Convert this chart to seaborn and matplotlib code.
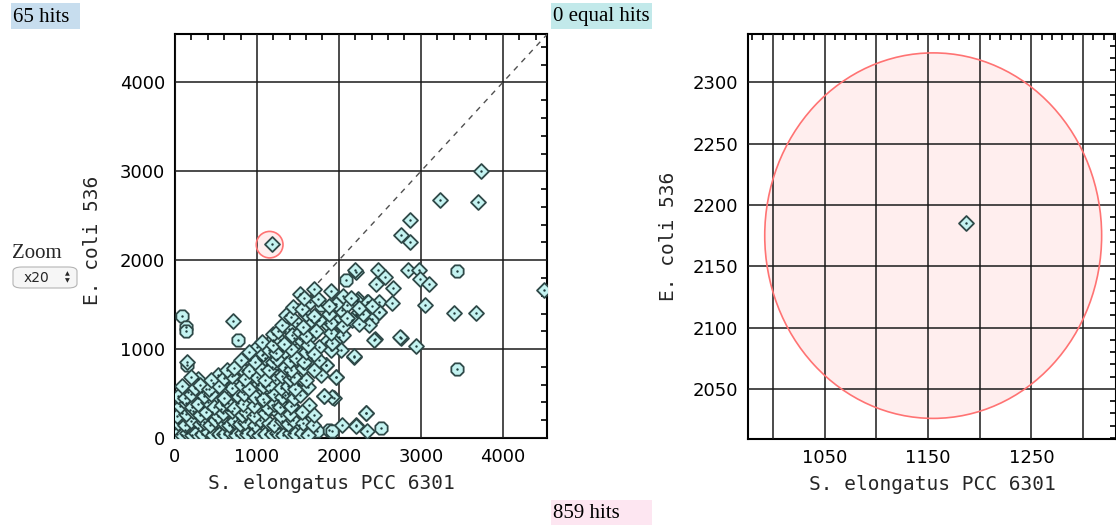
import pandas as pd
import seaborn as sns
import matplotlib.pyplot as plt
from matplotlib.patches import Ellipse, Rectangle, FancyBboxPatch
from matplotlib.ticker import MultipleLocator, FixedLocator, FixedFormatter

# hits drawn as diamonds (x = S. elongatus PCC 6301, y = E. coli 536)
diamond_x = [
    711, 142, 277, 528, 996, 1049, 915, 833, 772, 618, 467, 374, 163, 285, 81,
    183, 447, 630, 772, 894, 1037, 1159, 1220, 1260, 1179, 1301, 1118, 935, 691,
    528, 345, 81, 244, 569, 752, 915, 1057, 1179, 1260, 508, 691, 935, 1260, 122,
    2204, 1521, 1643, 1952, 2102, 2204, 2236, 2346, 2489, 2651, 2489, 2367, 2163,
    1980, 1838, 1757, 1655, 1492, 1391, 1675, 1838, 2001, 2021, 2184, 2436, 2753,
    1757, 1655, 1838, 1968, 1777, 1533, 1370, 1350, 1513, 1818, 1940, 1635, 1472,
    1330, 2326, 2204, 2041, 2346,
    3735, 3240, 3695, 2866, 2764, 2866, 1187, 2195, 2479, 2561, 2447, 2659, 2845,
    2976, 2984, 3098, 4500, 1959, 2224, 2358, 3057, 3402, 3675, 2947, 2752, 2431,
    2183, 2488, 2325, 2203, 1919, 1817, 1959, 1837,
    20, 80, 150, 210, 260, 330, 400, 460, 540, 600, 680, 740, 820, 880, 960, 1030,
    1100, 1180, 1250, 1320, 1400, 1460, 1550, 1620,
    40, 120, 190, 300, 360, 430, 490, 600, 660, 720, 790, 860, 980, 1040, 1150,
    1210, 1300, 1380, 1440, 1560, 1680,
    20, 140, 220, 300, 380, 520, 580, 700, 820, 870, 960, 1100, 1230, 1290, 1400,
    1550, 1700,
    60, 130, 210, 280, 400, 470, 570, 650, 720, 830, 960, 1090, 1140, 1210, 1280,
    1350, 1420,
    40, 120, 200, 360, 440, 600, 760, 840, 980, 1080, 1210, 1300, 1380, 1450, 1520,
    90, 240, 310, 420, 540, 690, 820, 900, 1080, 1150, 1290, 1380, 1460, 1620,
    200, 440, 600, 700, 850, 1000, 1100, 1300, 1400, 1450, 1600,
    640, 720, 900, 1050, 1150, 1340, 1420, 1560, 1700,
    800, 980, 1100, 1200, 1250, 1400, 1480, 1580, 1760,
    900, 1080, 1150, 1230, 1420, 1600, 1700, 1900,
    1060, 1200, 1280, 1330, 1550, 1620, 1920,
    1200, 1260, 1430, 1520, 1600, 1720, 1900, 2050,
    1300, 1560, 1900, 2050, 2250,
    1350, 1420, 1600, 1700, 1880, 2100, 2300,
    1440, 1550, 1880, 2250, 2400,
    1580, 1750, 2050, 2150, 1700, 1900,
]
diamond_y = [
    1318, 860, 660, 708, 1026, 877, 877, 764, 652, 570, 615, 547, 520, 446, 408,
    315, 296, 315, 390, 446, 483, 540, 652, 764, 801, 989, 820, 708, 483,
    427, 352, 278, 221, 183, 221, 259, 315, 371, 427, 109, 127, 109, 109, 90,
    1870, 1619, 1532, 1506, 1495, 1383, 1559, 1532, 1532, 1521, 1420, 1270, 1326,
    1307, 1289, 1326, 1326, 1289, 1222, 1158, 1082, 1139, 989, 914, 1109, 1121,
    1026, 896, 821, 689, 708, 671, 745, 914, 1008, 472, 446, 371, 315,
    352, 277, 146, 146, 82,
    3003, 2682, 2652, 2457, 2284, 2202, 2185, 1895, 1895, 1813, 1738, 1682, 1888,
    1888, 1794, 1727, 1663, 1506, 1543, 1532, 1494, 1401, 1401, 1037, 1131, 1101,
    921, 1416, 277, 135, 457, 472, 689, 820,
    45, 30, 60, 35, 55, 40, 65, 30, 50, 40, 60, 35, 55, 40, 60, 30,
    50, 40, 60, 35, 55, 40, 60, 35,
    170, 150, 190, 160, 185, 150, 200, 170, 150, 190, 160, 185, 150, 200, 170,
    150, 190, 160, 200, 170, 150,
    250, 270, 300, 260, 290, 250, 280, 300, 260, 290, 250, 280, 300, 250, 270,
    290, 260,
    360, 390, 350, 380, 400, 350, 370, 390, 340, 380, 360, 400, 340, 380, 350,
    400, 360,
    470, 450, 500, 470, 490, 450, 480, 500, 460, 440, 490, 460, 500, 450, 480,
    580, 560, 600, 550, 590, 560, 600, 550, 580, 600, 560, 590, 550, 570,
    690, 650, 680, 700, 660, 690, 650, 700, 660, 690, 650,
    760, 790, 750, 780, 760, 800, 770, 790, 760,
    880, 860, 900, 850, 890, 870, 900, 850, 880,
    970, 950, 990, 960, 1000, 970, 950, 990,
    1080, 1050, 1100, 1060, 1090, 1050, 1070,
    1170, 1200, 1160, 1190, 1150, 1200, 1180, 1160,
    1270, 1250, 1290, 1260, 1280,
    1380, 1360, 1400, 1370, 1390, 1350, 1400,
    1470, 1450, 1480, 1460, 1490,
    1580, 1560, 1600, 1570, 1680, 1650,
]

# hits drawn as octagons
octagon_x = [89, 130, 130, 772, 142, 1016, 406, 285, 1118, 2082, 1777, 2041, 2399,
             1452, 1594, 1879, 1736, 1513, 1350, 2509, 3447, 3447, 1911,
             250, 560, 870, 1340, 640, 1190, 1000, 330, 1500, 1060]
octagon_y = [1371, 1251, 1200, 1101, 820, 596, 202, 109, 90, 1776, 1495, 1439, 1334,
             1121, 240, 90, 82, 146, 90, 109, 1880, 772, 82,
             120, 330, 200, 480, 620, 1100, 430, 520, 600, 930]

# highlight ring around the selected hit
ring_center = (1155, 2175)
ring_w, ring_h = 326, 298

main_ticks = [0, 1000, 2000, 3000, 4000]
main_labels = ['0', '1000', '2000', '3000', '4000']
zoom_xticks = [1000, 1050, 1100, 1150, 1200, 1250, 1300]
zoom_xlabels = ['', '1050', '', '1150', '', '1250', '']
zoom_yticks = [2050, 2100, 2150, 2200, 2250, 2300]
zoom_ylabels = ['2050', '2100', '2150', '2200', '2250', '2300']

sns.set_style("white")
plt.rcParams['font.family'] = ['DejaVu Sans']

fig = plt.figure(figsize=(11.16, 5.25), dpi=100)
W, H = 1116, 525
ax1 = fig.add_axes([175 / W, (H - 438) / H, 372 / W, 404 / H])
ax2 = fig.add_axes([748 / W, (H - 439) / H, 368 / W, 405 / H])

fill = '#c4f3f1'
edge = '#2f4948'
df_d = pd.DataFrame({'x': diamond_x, 'y': diamond_y})
df_o = pd.DataFrame({'x': octagon_x, 'y': octagon_y})
df_all = pd.concat([df_d, df_o])

for ax in (ax1, ax2):
    ax.add_patch(Ellipse(ring_center, ring_w, ring_h, facecolor='#ffe8e8', alpha=0.7,
                         edgecolor='none', zorder=1))
    ax.add_patch(Ellipse(ring_center, ring_w, ring_h, facecolor='none',
                         edgecolor='#ff7373', lw=1.2, zorder=2.6))
    sns.scatterplot(data=df_o, x='x', y='y', marker='8', s=92, color=fill,
                    edgecolor=edge, linewidth=1.3, ax=ax, zorder=3)
    sns.scatterplot(data=df_d, x='x', y='y', marker='D', s=58, color=fill,
                    edgecolor=edge, linewidth=1.3, ax=ax, zorder=3)
    sns.scatterplot(data=df_all, x='x', y='y', marker='o', s=3, color='#1f3b3b',
                    linewidth=0, ax=ax, zorder=4)
    ax.grid(True, which='major', color='#1a1a1a', lw=1.1)
    ax.set_axisbelow(False)
    for sp in ax.spines.values():
        sp.set_color('black')
        sp.set_linewidth(1.5)
    ax.tick_params(which='both', direction='in', top=True, right=True,
                   colors='black', labelsize=13, width=1.2)
    ax.tick_params(which='major', length=0, pad=7)
    ax.tick_params(which='minor', length=4.5)
    ax.set_xlabel('S. elongatus PCC 6301', family='DejaVu Sans Mono', fontsize=14)
    ax.set_ylabel('E. coli 536', family='DejaVu Sans Mono', fontsize=14)

# overview panel
ax1.plot([0, 4540], [0, 4540], ls=(0, (4, 4)), color='#505050', lw=1, zorder=2.7)
ax1.set_xlim(0, 4540)
ax1.set_ylim(0, 4545)
ax1.xaxis.set_major_locator(FixedLocator(main_ticks))
ax1.xaxis.set_major_formatter(FixedFormatter(main_labels))
ax1.yaxis.set_major_locator(FixedLocator(main_ticks))
ax1.yaxis.set_major_formatter(FixedFormatter(main_labels))
ax1.xaxis.set_minor_locator(MultipleLocator(200))
ax1.yaxis.set_minor_locator(MultipleLocator(200))
ax1.xaxis.set_label_coords(0.42, -0.09)
ax1.yaxis.set_label_coords(-0.196, 0.49)

# zoomed panel
ax2.set_xlim(975.8, 1331.9)
ax2.set_ylim(2009.2, 2339.4)
ax2.xaxis.set_major_locator(FixedLocator(zoom_xticks))
ax2.xaxis.set_major_formatter(FixedFormatter(zoom_xlabels))
ax2.yaxis.set_major_locator(FixedLocator(zoom_yticks))
ax2.yaxis.set_major_formatter(FixedFormatter(zoom_ylabels))
ax2.xaxis.set_minor_locator(MultipleLocator(10))
ax2.yaxis.set_minor_locator(MultipleLocator(10))
ax2.xaxis.set_label_coords(0.5, -0.09)
ax2.yaxis.set_label_coords(-0.19, 0.5)

# header / footer boxes
def label_box(x0, y0, w, h, color, text):
    fig.add_artist(Rectangle((x0 / W, 1 - (y0 + h) / H), w / W, h / H,
                             transform=fig.transFigure, facecolor=color,
                             edgecolor='none'))
    fig.text((x0 + 2) / W, 1 - (y0 + h / 2 + 1) / H, text, ha='left', va='center',
             family='Liberation Serif', fontsize=15, color='black')

label_box(11, 3, 69, 26, '#c7ddee', '65 hits')
label_box(551, 3, 101, 26, '#c2e9ea', '0 equal hits')
label_box(551, 500, 101, 25, '#fde6f1', '859 hits')

# zoom selector
fig.text(12 / W, 1 - 254 / H, 'Zoom', ha='left', va='center',
         family='Liberation Serif', fontsize=15)
fig.add_artist(FancyBboxPatch((13 / W, 1 - 288 / H), 64 / W, 21 / H,
                              boxstyle='round,pad=0,rounding_size=0.008',
                              transform=fig.transFigure, facecolor='#f6f6f6',
                              edgecolor='#b4b4b4', lw=0.8))
fig.text(24 / W, 1 - 277.5 / H, 'x20', ha='left', va='center', fontsize=10)
fig.text(67 / W, 1 - 274 / H, '▲', ha='center', va='center', fontsize=4.5)
fig.text(67 / W, 1 - 281 / H, '▼', ha='center', va='center', fontsize=4.5)

fig.savefig('out.png', dpi=100)
